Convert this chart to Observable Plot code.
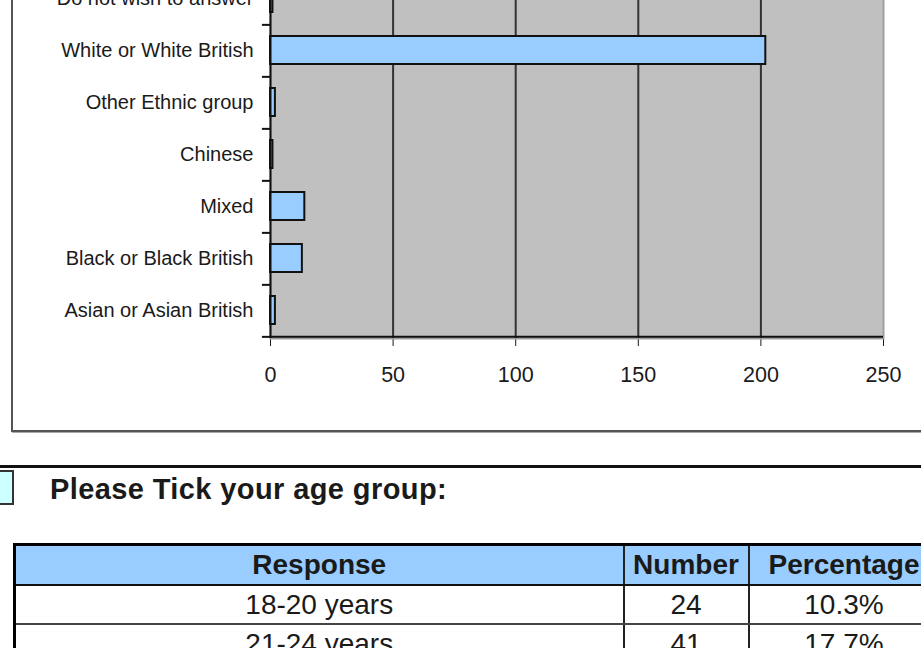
<!DOCTYPE html>
<html>
<head>
<meta charset="utf-8">
<script src="https://cdn.jsdelivr.net/npm/d3@7"></script>
<script src="https://cdn.jsdelivr.net/npm/@observablehq/plot@0.6"></script>
<style>
  html, body { margin: 0; padding: 0; background: #fff; }
  body { position: relative; width: 921px; height: 648px; overflow: hidden; font-family: "Liberation Sans", Arial, sans-serif; }
  #box { position: absolute; left: 11px; top: -20px; width: 1000px; height: 452px; box-sizing: border-box; border: 2px solid #555; box-shadow: 1px 1px 0 #aaa; }
  #chart { position: absolute; left: 0; top: -41px; }
  #chart [aria-label^="x-axis"] { font-size: 21.5px; }
  #sep { position: absolute; left: 0; top: 465px; width: 921px; height: 3px; background: #111; }
  #marker { position: absolute; left: -2px; top: 470px; width: 16px; height: 35px; box-sizing: border-box; border: 2px solid #333; background: #ccffff; }
  #title { position: absolute; left: 50px; top: 472px; font-size: 29px; letter-spacing: 0.4px; line-height: 34px; font-weight: bold; color: #1a1a1a; white-space: nowrap; }
  #tbl { position: absolute; left: 13px; top: 543px; border-collapse: collapse; table-layout: fixed; width: 924px; color: #1a1a1a; }
  #tbl th, #tbl td { text-align: center; font-size: 28px; padding: 0; white-space: nowrap; overflow: hidden; }
  #tbl th { height: 38px; background: #99ccff; font-weight: bold; border-top: 3px solid #000; border-bottom: 2px solid #111; border-left: 2px solid #222; }
  #tbl td { height: 37px; border-bottom: 2px solid #444; border-left: 2px solid #222; }
  #tbl th:first-child, #tbl td:first-child { border-left: 3px solid #000; }
</style>
</head>
<body>
<div id="box"></div>
<div id="chart"></div>
<div id="sep"></div>
<div id="marker"></div>
<div id="title"></div>
<table id="tbl"><colgroup><col style="width:609px"><col style="width:125px"><col style="width:190px"></colgroup><thead></thead><tbody></tbody></table>
<script>
// Ethnic group chart data
const categories = ["Do not wish to answer", "White or White British", "Other Ethnic group", "Chinese", "Mixed", "Black or Black British", "Asian or Asian British"];
const counts = [1, 202, 2, 1, 14, 13, 2];
const xTicks = [0, 50, 100, 150, 200, 250];
const gridValues = [50, 100, 150, 200];

// Age group table data
const questionTitle = "Please Tick your age group:";
const tableHeaders = ["Response", "Number", "Percentage"];
const ageResponses = ["18-20 years", "21-24 years"];
const ageNumbers = [24, 41];
const agePercentages = ["10.3%", "17.7%"];

const data = categories.map((c, i) => ({category: c, count: counts[i]}));

const mTop = 10, mBottom = 60, mLeft = 270, mRight = 38;
const H = 41 + 338 + mBottom;
const bw = (H - mTop - mBottom) / categories.length;

const chart = Plot.plot({
  width: 921,
  height: H,
  marginTop: mTop,
  marginBottom: mBottom,
  marginLeft: mLeft,
  marginRight: mRight,
  style: {fontFamily: "'Liberation Sans', Arial, sans-serif", fontSize: "20px", color: "#1a1a1a", background: "transparent"},
  x: {domain: [0, 250], ticks: xTicks, tickSize: 8, tickPadding: 20, label: null},
  y: {domain: categories, padding: 0, tickSize: 0, tickPadding: 17, label: null},
  marks: [
    Plot.frame({fill: "#c0c0c0", stroke: "#a0a0a0", strokeWidth: 2}),
    Plot.ruleX(gridValues, {stroke: "#333", strokeWidth: 2}),
    Plot.barX(data, {x: "count", y: "category", fill: "#99ccff", stroke: "#111", strokeWidth: 2, insetTop: 12, insetBottom: 12}),
    Plot.ruleX([0], {stroke: "#111", strokeWidth: 2}),
    Plot.ruleY(categories, {y: d => d, x1: -3.3, x2: 0, dy: bw / 2, stroke: "#111", strokeWidth: 2}),
    Plot.ruleY([categories[categories.length - 1]], {y: d => d, x1: 0, x2: 250, dy: bw / 2, stroke: "#111", strokeWidth: 2})
  ]
});
document.getElementById("chart").appendChild(chart);

document.getElementById("title").textContent = questionTitle;
const thead = document.querySelector("#tbl thead");
const hr = document.createElement("tr");
tableHeaders.forEach(h => { const th = document.createElement("th"); th.textContent = h; hr.appendChild(th); });
thead.appendChild(hr);
const tbody = document.querySelector("#tbl tbody");
ageResponses.forEach((r, i) => {
  const tr = document.createElement("tr");
  [r, ageNumbers[i], agePercentages[i]].forEach(v => { const td = document.createElement("td"); td.textContent = v; tr.appendChild(td); });
  tbody.appendChild(tr);
});
</script>
</body>
</html>
